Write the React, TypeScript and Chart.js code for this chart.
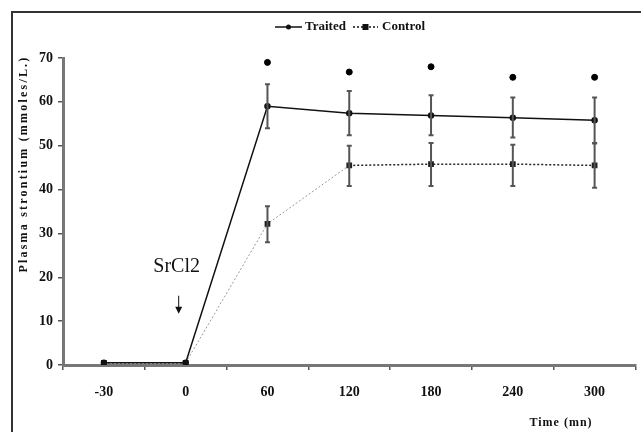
import React, { useEffect, useRef } from "react";
import { Chart, registerables } from "chart.js";

Chart.register(...registerables);

const categories = ["-30", "0", "60", "120", "180", "240", "300"];
const treated = [0.5, 0.5, 59, 57.4, 56.9, 56.4, 55.8];
const treatedLow = [null, null, 54, 52.4, 52.4, 51.9, 50.6];
const treatedHigh = [null, null, 64, 62.5, 61.5, 61, 61];
const control = [0.5, 0.5, 32.2, 45.5, 45.8, 45.8, 45.5];
const controlLow = [null, null, 28, 40.8, 40.8, 40.8, 40.4];
const controlHigh = [null, null, 36.2, 50, 50.6, 50.2, 50.5];
const significance = [null, null, 69, 66.8, 68, 65.6, 65.6];
const yTicks = [0, 10, 20, 30, 40, 50, 60, 70];

const SERIF = '"Liberation Serif", "Times New Roman", serif';
const TEXT = "#111";

const overlay = {
  id: "overlay",
  afterDatasetsDraw(chart: any) {
    const ctx = chart.ctx;
    const xs = chart.scales.x;
    const ys = chart.scales.y;
    ctx.save();
    const drawErr = (lows: any[], highs: any[]) => {
      ctx.strokeStyle = "#555";
      ctx.lineWidth = 2;
      lows.forEach((lo, i) => {
        const hi = highs[i];
        if (lo == null || hi == null) return;
        const x = xs.getPixelForValue(i);
        const y1 = ys.getPixelForValue(lo);
        const y2 = ys.getPixelForValue(hi);
        ctx.beginPath();
        ctx.moveTo(x, y1);
        ctx.lineTo(x, y2);
        ctx.moveTo(x - 2.5, y1);
        ctx.lineTo(x + 2.5, y1);
        ctx.moveTo(x - 2.5, y2);
        ctx.lineTo(x + 2.5, y2);
        ctx.stroke();
      });
    };
    drawErr(treatedLow, treatedHigh);
    drawErr(controlLow, controlHigh);

    const px = xs.getPixelForValue(1) - 7;
    ctx.fillStyle = TEXT;
    ctx.font = `20px ${SERIF}`;
    ctx.textAlign = "center";
    ctx.textBaseline = "middle";
    ctx.fillText("SrCl2", px - 2, ys.getPixelForValue(22.3));
    const aTop = ys.getPixelForValue(15.8);
    const aBot = ys.getPixelForValue(11.7);
    ctx.strokeStyle = "#111";
    ctx.lineWidth = 1;
    ctx.beginPath();
    ctx.moveTo(px, aTop);
    ctx.lineTo(px, aBot - 6);
    ctx.stroke();
    ctx.beginPath();
    ctx.moveTo(px - 3.5, aBot - 7);
    ctx.lineTo(px + 3.5, aBot - 7);
    ctx.lineTo(px, aBot);
    ctx.closePath();
    ctx.fill();
    ctx.restore();
  },
  afterDraw(chart: any) {
    const ctx = chart.ctx;
    ctx.save();
    ctx.strokeStyle = "#333";
    ctx.lineWidth = 2;
    ctx.beginPath();
    ctx.moveTo(12, 440);
    ctx.lineTo(12, 12);
    ctx.lineTo(650, 12);
    ctx.stroke();

    const ly = 27;
    ctx.strokeStyle = "#111";
    ctx.lineWidth = 1.5;
    ctx.setLineDash([]);
    ctx.beginPath();
    ctx.moveTo(275, ly);
    ctx.lineTo(302, ly);
    ctx.stroke();
    ctx.fillStyle = "#111";
    ctx.beginPath();
    ctx.arc(288.5, ly, 2.5, 0, Math.PI * 2);
    ctx.fill();
    ctx.setLineDash([2, 2]);
    ctx.beginPath();
    ctx.moveTo(353, ly);
    ctx.lineTo(378, ly);
    ctx.stroke();
    ctx.setLineDash([]);
    ctx.fillRect(362.5, ly - 3, 6, 6);
    ctx.fillStyle = TEXT;
    ctx.font = `bold 13px ${SERIF}`;
    ctx.textAlign = "left";
    ctx.textBaseline = "middle";
    ctx.fillText("Traited", 305, ly);
    ctx.fillText("Control", 382, ly);

    ctx.save();
    ctx.translate(24, 164);
    ctx.rotate(-Math.PI / 2);
    ctx.font = `bold 12px ${SERIF}`;
    (ctx as any).letterSpacing = "2.2px";
    ctx.textAlign = "center";
    ctx.textBaseline = "middle";
    ctx.fillText("Plasma strontium (mmoles/L.)", 0, 0);
    ctx.restore();

    ctx.font = `bold 12px ${SERIF}`;
    (ctx as any).letterSpacing = "1px";
    ctx.textAlign = "center";
    ctx.textBaseline = "middle";
    ctx.fillText("Time (mn)", 561, 423);
    ctx.restore();
  },
};

export default function App() {
  const ref = useRef<HTMLCanvasElement>(null);
  useEffect(() => {
    document.body.style.margin = "0";
    const chart = new Chart(ref.current!, {
      type: "line",
      data: {
        labels: categories,
        datasets: [
          {
            label: "Traited",
            data: treated,
            borderColor: "#111",
            backgroundColor: "#111",
            borderWidth: 1.5,
            pointStyle: "circle",
            pointRadius: 2.5,
            tension: 0,
          },
          {
            label: "Control",
            data: control,
            borderColor: "#222",
            backgroundColor: "#111",
            borderWidth: 1.5,
            borderDash: [2, 2],
            pointStyle: "rect",
            pointRadius: 3,
            tension: 0,
            segment: {
              borderColor: (c: any) =>
                c.p0DataIndex === 1 || c.p0DataIndex === 2 ? "#999" : "#222",
              borderWidth: (c: any) =>
                c.p0DataIndex === 1 || c.p0DataIndex === 2 ? 1 : 1.5,
            },
          },
          {
            label: "sig",
            data: significance,
            showLine: false,
            borderColor: "#000",
            backgroundColor: "#000",
            pointRadius: 3,
          },
        ],
      },
      options: {
        animation: false,
        responsive: false,
        layout: { padding: { top: 58, left: 0, right: 0, bottom: 0 } },
        plugins: {
          legend: { display: false },
          tooltip: { enabled: false },
        },
        scales: {
          x: {
            type: "category",
            offset: true,
            grid: {
              offset: true,
              drawOnChartArea: false,
              drawTicks: true,
              tickLength: 5,
              color: "#555",
              lineWidth: 1.5,
            },
            border: { display: true, color: "#777", width: 3 },
            ticks: {
              color: TEXT,
              padding: 14,
              font: { family: SERIF, size: 14, weight: "bold" },
            },
            afterFit(s: any) {
              s.height = 67;
            },
          },
          y: {
            min: 0,
            max: 70,
            afterBuildTicks(s: any) {
              s.ticks = yTicks.map((v) => ({ value: v }));
            },
            grid: {
              drawOnChartArea: false,
              drawTicks: true,
              tickLength: 5,
              color: "#555",
              lineWidth: 1.5,
            },
            border: { display: true, color: "#777", width: 3 },
            ticks: {
              color: TEXT,
              padding: 5,
              font: { family: SERIF, size: 14, weight: "bold" },
            },
            afterFit(s: any) {
              s.width = 63;
            },
          },
        },
      },
      plugins: [overlay],
    });
    return () => chart.destroy();
  }, []);
  return (
    <div style={{ width: 641, height: 432 }}>
      <canvas ref={ref} width={641} height={432} style={{ display: "block" }} />
    </div>
  );
}
